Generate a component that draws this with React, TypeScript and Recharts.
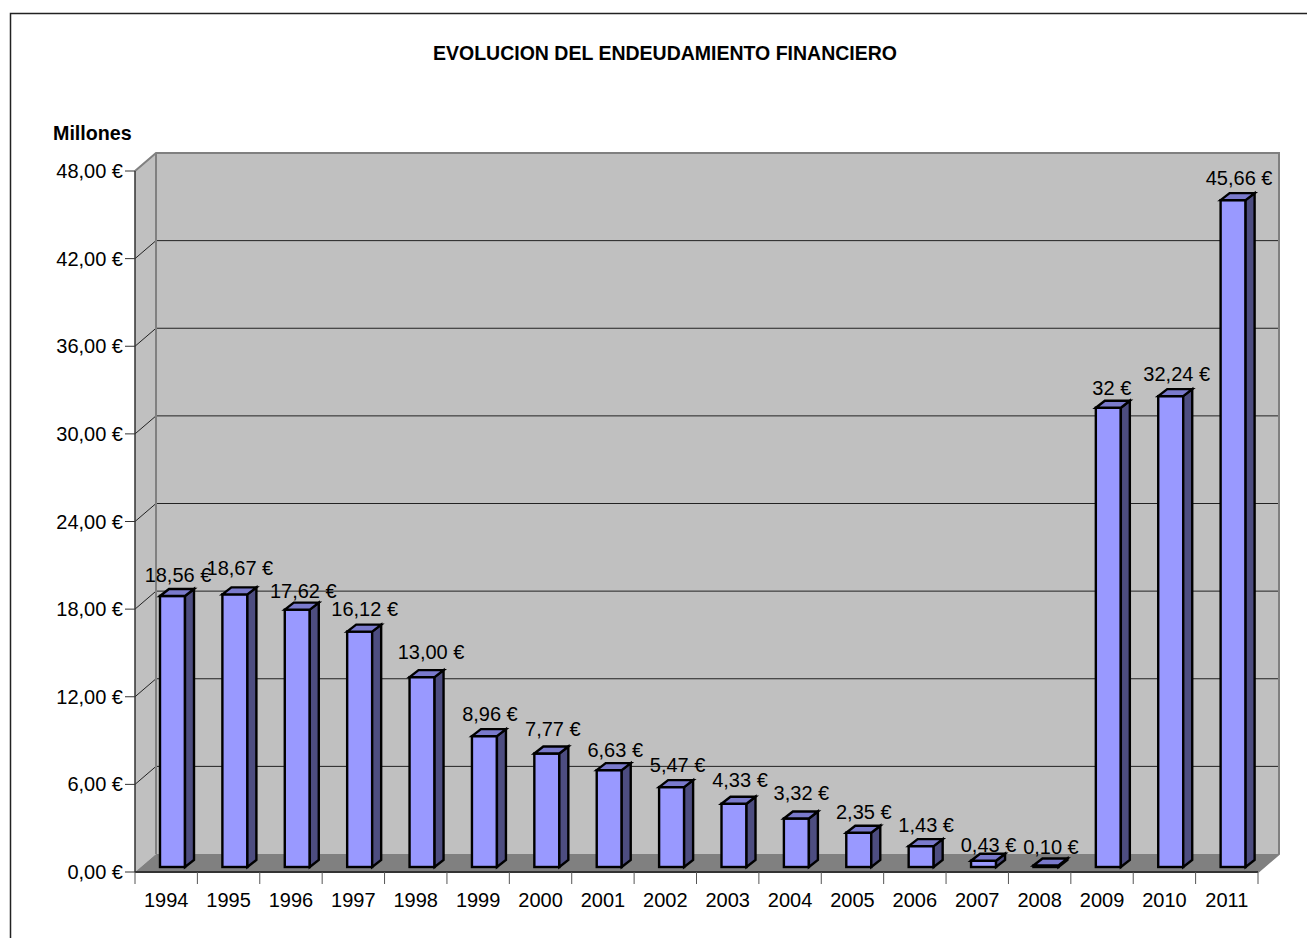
import React from "react";
import {
  BarChart,
  Bar,
  XAxis,
  YAxis,
  LabelList,
  usePlotArea,
} from "recharts";

const years = [
  "1994", "1995", "1996", "1997", "1998", "1999", "2000", "2001", "2002",
  "2003", "2004", "2005", "2006", "2007", "2008", "2009", "2010", "2011",
];
const debt = [
  18.56, 18.67, 17.62, 16.12, 13.0, 8.96, 7.77, 6.63, 5.47, 4.33, 3.32, 2.35,
  1.43, 0.43, 0.1, 31.45, 32.24, 45.66,
];
const debtLabels = [
  "18,56 €", "18,67 €", "17,62 €", "16,12 €", "13,00 €", "8,96 €", "7,77 €",
  "6,63 €", "5,47 €", "4,33 €", "3,32 €", "2,35 €", "1,43 €", "0,43 €",
  "0,10 €", "32 €", "32,24 €", "45,66 €",
];
const yTicks = [0, 6, 12, 18, 24, 30, 36, 42, 48];

const chartData = years.map((year, i) => ({
  year,
  debt: debt[i],
  label: debtLabels[i],
}));

const FONT = "'Liberation Sans', Arial, sans-serif";
const FONT_SIZE = 20;
const Y_MAX = 48;
// depth of the fake 3D box, and of the bars standing inside it
const DEPTH_X = 21;
const DEPTH_Y = 18;
const BAR_DX = 6;
const BAR_DY = 5;
const BAR_DEPTH_X = 9;
const BAR_DEPTH_Y = 7;

// Excel placed these labels a bit unevenly, so they are nudged one by one
const labelLift = [21, 26, 19, 23, 25, 22, 25, 20, 22, 24, 26, 21, 21, 16, 19, 20, 22, 22];
const labelShift = [5.5, 5, 6, 5, 9, 5.5, 6, 6, 6, 6, 5, 5, 5, 5, 5, 3.5, 6, 6];

const Frame = () => {
  const plot = usePlotArea();
  if (!plot) return null;
  const { x, y, width, height } = plot;
  const right = x + width;
  const bottom = y + height;
  const yOf = (v: number) => bottom - (v / Y_MAX) * height;
  const band = width / years.length;

  return (
    <g>
      <path d={`M10.5 1000V13.5H1320`} fill="none" stroke="#222" strokeWidth={1.5} />
      <text x={665} y={60} textAnchor="middle" fontFamily={FONT} fontSize={19.5} fontWeight="bold" fill="#000">
        EVOLUCION DEL ENDEUDAMIENTO FINANCIERO
      </text>
      <text x={53} y={140} fontFamily={FONT} fontSize={19.7} fontWeight="bold" fill="#000">
        Millones
      </text>

      {/* back wall, side wall, floor */}
      <rect x={x + DEPTH_X} y={y - DEPTH_Y} width={width} height={height} fill="#C0C0C0" />
      <polygon
        points={`${x},${y} ${x + DEPTH_X},${y - DEPTH_Y} ${x + DEPTH_X},${bottom - DEPTH_Y} ${x},${bottom}`}
        fill="#C0C0C0"
      />
      <polygon
        points={`${x},${bottom} ${x + DEPTH_X},${bottom - DEPTH_Y} ${right + DEPTH_X},${bottom - DEPTH_Y} ${right},${bottom}`}
        fill="#808080"
      />

      {yTicks.slice(1, -1).map((v) => (
        <path
          key={v}
          d={`M${x} ${yOf(v)}L${x + DEPTH_X} ${yOf(v) - DEPTH_Y}H${right + DEPTH_X}`}
          fill="none"
          stroke="#222"
          strokeWidth={1}
        />
      ))}

      <path
        d={`M${x} ${y}L${x + DEPTH_X} ${y - DEPTH_Y}H${right + DEPTH_X}V${bottom - DEPTH_Y}L${right} ${bottom}`}
        fill="none"
        stroke="#808080"
        strokeWidth={2}
      />
      <path d={`M${x + DEPTH_X} ${y - DEPTH_Y}V${bottom - DEPTH_Y}`} stroke="#808080" strokeWidth={2} />
      <path d={`M${x} ${y}V${bottom}`} stroke="#333" strokeWidth={1.5} />
      <path d={`M${x} ${bottom}H${right}`} stroke="#333" strokeWidth={2} />

      {/* x ticks sit between the categories */}
      {years.concat("end").map((_, i) => (
        <path key={i} d={`M${x + band * i} ${bottom}v12`} stroke="#555" strokeWidth={1} />
      ))}
    </g>
  );
};

const Bar3D = (props: any) => {
  const { x, y, width, height } = props;
  const left = x + BAR_DX;
  const top = y - BAR_DY;
  const h = Math.max(height, 0);
  const r = left + width;
  const b = top + h;
  return (
    <g stroke="#000" strokeWidth={2.4} strokeLinejoin="miter">
      <rect x={left} y={top} width={width} height={h} fill="#9999FF" />
      <polygon
        points={`${r},${top} ${r + BAR_DEPTH_X},${top - BAR_DEPTH_Y} ${r + BAR_DEPTH_X},${b - BAR_DEPTH_Y} ${r},${b}`}
        fill="#4D4D80"
      />
      <polygon
        points={`${left},${top} ${left + BAR_DEPTH_X},${top - BAR_DEPTH_Y} ${r + BAR_DEPTH_X},${top - BAR_DEPTH_Y} ${r},${top}`}
        fill="#7A7ACC"
      />
    </g>
  );
};

const BarLabel = (props: any) => {
  const { x, y, width, index, value } = props;
  return (
    <text
      x={x + BAR_DX + width / 2 + labelShift[index]}
      y={y - BAR_DY - labelLift[index]}
      dy="0.35em"
      textAnchor="middle"
      fontFamily={FONT}
      fontSize={FONT_SIZE}
      fill="#000"
    >
      {value}
    </text>
  );
};

const formatEuro = (v: number) => `${v.toFixed(2).replace(".", ",")} €`;

const App = () => (
  <div style={{ position: "absolute", left: 0, top: 0, width: 1307, height: 938, overflow: "hidden", background: "#fff" }}>
    <BarChart
      width={1307}
      height={938}
      data={chartData}
      margin={{ top: 171, right: 49, left: 0, bottom: 0 }}
      barCategoryGap={0}
    >
      <Frame />
      <XAxis
        dataKey="year"
        height={66}
        axisLine={false}
        tickLine={false}
        tickMargin={15}
        interval={0}
        tick={{ fontFamily: FONT, fontSize: FONT_SIZE, fill: "#000" }}
      />
      <YAxis
        width={135}
        domain={[0, Y_MAX]}
        ticks={yTicks}
        interval={0}
        axisLine={false}
        tickLine={{ stroke: "#333" }}
        tickSize={10}
        tickMargin={2}
        tickFormatter={formatEuro}
        tick={{ fontFamily: FONT, fontSize: FONT_SIZE, fill: "#000" }}
      />
      <Bar dataKey="debt" barSize={25} isAnimationActive={false} shape={Bar3D}>
        <LabelList dataKey="label" content={BarLabel} />
      </Bar>
    </BarChart>
  </div>
);

export default App;
